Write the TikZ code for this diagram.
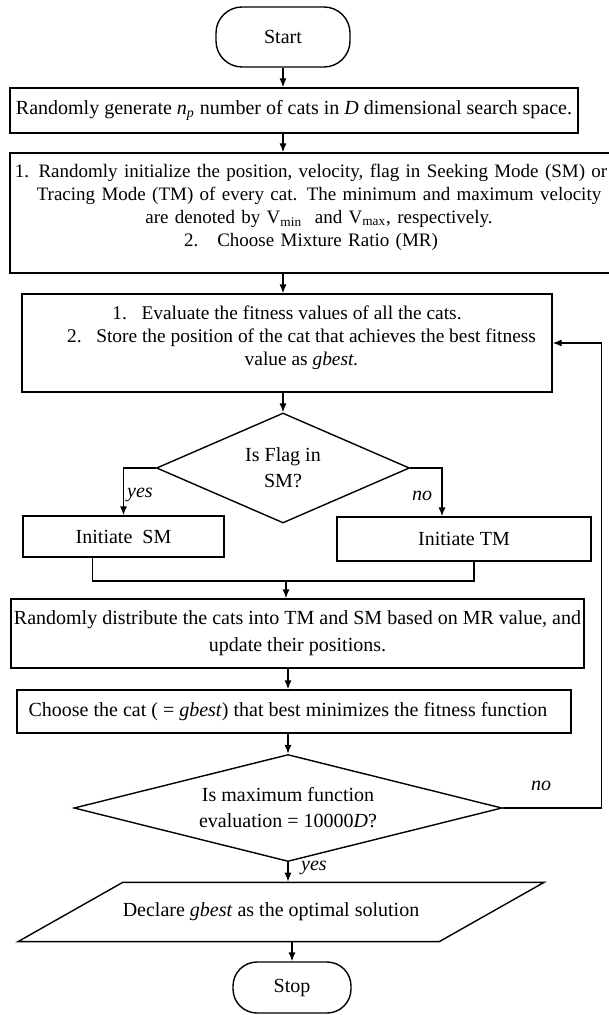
\documentclass[tikz,border=0pt]{standalone}
\usepackage{fontspec}
\setmainfont{Liberation Serif}
\usetikzlibrary{shapes.geometric,arrows.meta}

\begin{document}
\begin{tikzpicture}[x=0.5pt,y=-0.5pt,
    every node/.style={font=\fontsize{10}{11.5}\selectfont},
    box/.style={draw, line width=0.7pt, align=center, inner sep=0pt},
    term/.style={box, rounded corners=13pt},
    decide/.style={draw, line width=0.7pt, diamond, shape aspect=2.3, align=center, inner sep=0pt},
    lbl/.style={font=\fontsize{10}{11.5}\selectfont\itshape},
    arr/.style={line width=0.7pt, -{Latex[length=4.5pt,width=3.6pt]}}]
    \useasboundingbox (0,0) rectangle (609,1015);

    \node (start) at (283,37) [term, minimum width=67pt, minimum height=30pt] {Start};
    \node (gen) at (294,110.5) [box, minimum width=284pt, minimum height=22.5pt]
      {Randomly generate \textit{n}\textsubscript{\textit{p}} number of cats in \textit{D} dimensional search space.};
    \node (init) at (311,213) [box, font=\fontsize{9.5}{11.5}\selectfont, text width=340pt, inner xsep=-19.5pt, minimum height=60pt]
      {1. Randomly initialize the position, velocity, flag in Seeking Mode (SM) or\\
       \hspace*{8pt}Tracing Mode (TM) of every cat. The minimum and maximum velocity\\
       \hspace*{8pt}are denoted by V\textsubscript{min}\ \ and V\textsubscript{max}, respectively.\\
       2.\ \ \ Choose Mixture Ratio (MR)\\[-4pt]\mbox{}};
    \node (eval) at (287,343) [box, font=\fontsize{9.7}{11.5}\selectfont, minimum width=265pt, minimum height=49pt]
      {1.\ \ \ Evaluate the fitness values of all the cats.\\
       \ \ \ \ \ \ 2.\ \ \ Store the position of the cat that achieves the best fitness\\
       \ \ \ \ \ \ value as \textit{gbest.}\\[-4pt]\mbox{}};
    \node (flag) at (283,468) [decide, minimum width=126.5pt, minimum height=55pt] {Is Flag in\\[1.5pt] SM?};
    \node (sm) at (123.5,536.5) [box, minimum width=100.5pt, minimum height=20.5pt] {Initiate\ \ SM};
    \node (tm) at (464,539) [box, minimum width=127pt, minimum height=22pt] {Initiate TM};
    \node (dist) at (297.5,633.5) [box, minimum width=286.5pt, minimum height=34.5pt]
      {Randomly distribute the cats into TM and SM based on MR value, and\\[2pt] update their positions.};
    \node (choose) at (294,711.5) [box, minimum width=277pt, minimum height=21.5pt]
      {Choose the cat ( = \textit{gbest}) that best minimizes the fitness function\hspace*{6pt}};
    \node (maxfe) at (288,808) [decide, shape aspect=4, minimum width=214pt, minimum height=53.5pt]
      {Is maximum function\\[1.5pt] evaluation = 10000\textit{D}?};
    \node (decl) at (281,912) [draw, line width=0.7pt, trapezium, trapezium left angle=29.5, trapezium right angle=150.5,
      trapezium stretches body=true, minimum width=250pt, inner xsep=0pt, inner ysep=10.3pt]
      {Declare \textit{gbest} as the optimal solution\hspace*{10pt}};
    \node (stop) at (292,987.5) [term, minimum width=59pt, minimum height=25.5pt, rounded corners=12pt] {Stop};

    \node (yes1) at (140,495) [lbl] {yes};
    \node (no1) at (422,496) [lbl] {no};
    \node (no2) at (541,786) [lbl] {no};
    \node (yes2) at (314,868) [lbl] {yes};

    \foreach \a/\b in {start/gen, gen/init, init/eval, eval/flag} {
      \draw[arr] (\a.south -| start) -- (\b.north -| start);
    }
    \draw[arr] (dist.south -| maxfe) -- (choose.north -| maxfe);
    \draw[arr] (choose.south -| maxfe) -- (maxfe.north);
    \draw[arr] (maxfe.south) -- (decl.north -| maxfe.south);
    \draw[arr] (decl.south -| stop) -- (stop.north);

    \draw[arr] (flag.west) -| (sm.north);
    \draw[arr] (flag.east) -| ([xshift=-11pt]tm.north);
    \coordinate (join) at (286,581);
    \draw[line width=0.7pt] ([xshift=-15.5pt]sm.south) |- (join) -| ([xshift=5pt]tm.south);
    \draw[arr] (join) -- (dist.north -| join);
    \draw[arr] (maxfe.east) -- ++(99,0) |- (eval.east);
  \end{tikzpicture}
\end{document}
